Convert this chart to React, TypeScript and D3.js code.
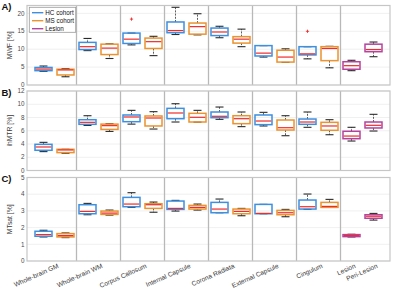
import React from "react";
import * as d3 from "d3";

// ---- data ----
const categories = ["Whole-brain GM", "Whole-brain WM", "Corpus Callosum", "Internal Capsule", "Corona Radiata", "External Capsule", "Cingulum", "Lesion", "Peri-Lesion"];
const categoryPositions = [1.5, 3.5, 5.5, 7.5, 9.5, 11.5, 13.5, 15, 16];
const boxPositions = [1, 2, 3, 4, 5, 6, 7, 8, 9, 10, 11, 12, 13, 14, 15, 16];
const boxCohort = ["HC", "MS", "HC", "MS", "HC", "MS", "HC", "MS", "HC", "MS", "HC", "MS", "HC", "MS", "Lesion", "Lesion"];
const legendLabels = ["HC cohort", "MS cohort", "Lesion"];

// [lower whisker, q1, median, q3, upper whisker]
const mwfStats = [
  [3.8, 4.0, 4.45, 4.9, 5.3], [2.3, 2.8, 4.2, 4.4, 4.6],
  [9.6, 9.9, 10.7, 11.9, 13.0], [7.4, 8.5, 10.3, 11.4, 11.5],
  [11.2, 11.6, 12.8, 14.5, 14.5], [8.2, 10.2, 12.1, 13.1, 13.6],
  [14.1, 14.6, 15.2, 17.6, 21.7], [14.0, 14.2, 16.3, 17.3, 19.9],
  [13.2, 13.8, 14.8, 15.9, 16.4], [10.7, 11.7, 12.8, 13.5, 15.6],
  [7.8, 8.1, 8.9, 11.0, 11.0], [6.3, 6.4, 7.8, 9.7, 10.1],
  [7.3, 8.4, 8.7, 10.7, 10.7], [4.8, 6.8, 10.2, 10.7, 10.8],
  [4.0, 4.4, 5.4, 6.5, 6.9], [7.9, 9.3, 9.9, 11.4, 12.0],
];
const mwfOutliers = [[5, 18.4], [13, 15.0]];
const mwfTicks = [0, 5, 10, 15, 20];

const ihmtrStats = [
  [2.85, 3.05, 3.55, 3.95, 4.25], [2.6, 2.7, 3.1, 3.2, 3.2],
  [6.8, 6.97, 7.27, 7.67, 8.27], [5.9, 6.2, 6.77, 7.0, 7.07],
  [7.0, 7.37, 8.08, 8.38, 9.08], [6.26, 6.72, 7.92, 8.23, 8.88],
  [7.32, 7.82, 8.68, 9.38, 10.08], [7.3, 7.32, 8.03, 8.63, 9.08],
  [7.72, 7.97, 8.18, 8.83, 9.58], [6.62, 7.07, 7.82, 8.27, 8.83],
  [6.72, 6.92, 7.47, 8.38, 8.78], [5.25, 6.11, 6.46, 7.62, 8.27],
  [6.52, 6.97, 7.32, 7.77, 8.83], [5.4, 6.07, 6.72, 7.27, 7.67],
  [4.45, 4.8, 5.2, 5.92, 6.52], [5.96, 6.42, 6.82, 7.32, 8.48],
];
const ihmtrTicks = [0, 2, 4, 6, 8, 10, 12];

const mtsatStats = [
  [1.44, 1.48, 1.58, 1.78, 1.84], [1.4, 1.44, 1.52, 1.64, 1.68],
  [2.77, 2.83, 2.97, 3.37, 3.45], [2.75, 2.79, 2.87, 2.99, 3.05],
  [3.21, 3.25, 3.41, 3.81, 4.09], [2.92, 3.15, 3.37, 3.43, 3.53],
  [2.99, 3.09, 3.15, 3.59, 3.63], [3.05, 3.11, 3.21, 3.33, 3.41],
  [2.89, 2.89, 3.11, 3.51, 3.71], [2.71, 2.83, 2.97, 3.11, 3.15],
  [2.83, 2.83, 2.85, 3.39, 3.39], [2.65, 2.77, 2.89, 3.03, 3.09],
  [3.09, 3.11, 3.25, 3.65, 4.01], [3.21, 3.21, 3.27, 3.51, 3.69],
  [1.44, 1.46, 1.52, 1.58, 1.6], [2.45, 2.56, 2.68, 2.77, 2.85],
];
const mtsatTicks = [0, 1, 2, 3, 4, 5];

// ---- styling ----
const colors: Record<string, string> = { HC: "#3d8fe0", MS: "#ea932f", Lesion: "#b6419f" };
const FONT = "'Liberation Sans', Arial, Helvetica, sans-serif";

const panels = [
  { letter: "A)", ylabel: "MWF [%]", stats: mwfStats, ticks: mwfTicks, domain: [0, 22.2], top: 5.5, bottom: 85, outliers: mwfOutliers },
  { letter: "B)", ylabel: "ihMTR [%]", stats: ihmtrStats, ticks: ihmtrTicks, domain: [0, 12], top: 91, bottom: 170.5, outliers: [] as number[][] },
  { letter: "C)", ylabel: "MTsat [%]", stats: mtsatStats, ticks: mtsatTicks, domain: [0, 5], top: 177.5, bottom: 261, outliers: [] as number[][] },
];

const x = d3.scaleLinear().domain([0.25, 16.75]).range([27, 390]);
const separators = d3.range(2.5, 15, 2);
const BOXW = 17;
const CAPW = 8;

function Panel({ p, showX }: { p: (typeof panels)[number]; showX: boolean }) {
  const y = d3.scaleLinear().domain(p.domain).range([p.bottom, p.top]);
  const [x0, x1] = x.range();
  return (
    <g>
      {p.ticks.map((t) => (
        <line key={"g" + t} x1={x0} x2={x1} y1={y(t)} y2={y(t)} stroke="#ececec" strokeWidth={0.8} />
      ))}
      {separators.map((s) => (
        <line key={"s" + s} x1={x(s)} x2={x(s)} y1={p.top} y2={p.bottom} stroke="#b8b8b8" strokeWidth={1.3} />
      ))}
      <rect x={x0} y={p.top} width={x1 - x0} height={p.bottom - p.top} fill="none" stroke="#c6c6c6" strokeWidth={1.2} />
      {p.ticks.map((t) => (
        <text key={"t" + t} x={24.5} y={y(t)} dy="0.35em" textAnchor="end" fontSize={6.3} fill="#4a4a4a" fontFamily={FONT}>
          {t}
        </text>
      ))}
      <text
        transform={`translate(12,${(p.top + p.bottom) / 2}) rotate(-90)`}
        textAnchor="middle"
        fontSize={6.8}
        fill="#3a3a3a"
        fontFamily={FONT}
      >
        {p.ylabel}
      </text>
      <text x={1.5} y={p.top + 4.8} fontSize={9.5} fontWeight="bold" fill="#111" fontFamily={FONT}>
        {p.letter}
      </text>
      {p.stats.map((s, i) => {
        const cx = x(boxPositions[i]);
        const c = colors[boxCohort[i]];
        const [lw, q1, md, q3, uw] = s;
        return (
          <g key={"b" + i}>
            <line x1={cx} x2={cx} y1={y(q3)} y2={y(uw)} stroke="#333" strokeWidth={0.8} strokeDasharray="2,1.2" />
            <line x1={cx} x2={cx} y1={y(q1)} y2={y(lw)} stroke="#333" strokeWidth={0.8} strokeDasharray="2,1.2" />
            <line x1={cx - CAPW / 2} x2={cx + CAPW / 2} y1={y(uw)} y2={y(uw)} stroke="#2a2a2a" strokeWidth={1.1} />
            <line x1={cx - CAPW / 2} x2={cx + CAPW / 2} y1={y(lw)} y2={y(lw)} stroke="#2a2a2a" strokeWidth={1.1} />
            <rect x={cx - BOXW / 2} y={y(q3)} width={BOXW} height={Math.max(0.5, y(q1) - y(q3))} fill="none" stroke={c} strokeWidth={1.5} />
            <line x1={cx - BOXW / 2 + 0.75} x2={cx + BOXW / 2 - 0.75} y1={y(md)} y2={y(md)} stroke="#f22a2a" strokeWidth={1.2} />
          </g>
        );
      })}
      {p.outliers.map(([pos, v], i) => {
        const cx = x(pos);
        const cy = y(v);
        return (
          <g key={"o" + i} stroke="#f22a2a" strokeWidth={0.9}>
            <line x1={cx - 1.6} x2={cx + 1.6} y1={cy} y2={cy} />
            <line x1={cx} x2={cx} y1={cy - 1.6} y2={cy + 1.6} />
          </g>
        );
      })}
      {showX &&
        categories.map((c, i) => (
          <text
            key={"x" + c}
            transform={`translate(${x(categoryPositions[i]) + 4.5},${p.bottom + 6.5}) rotate(-24)`}
            textAnchor="end"
            fontSize={6.6}
            fill="#3a3a3a"
            fontFamily={FONT}
          >
            {c}
          </text>
        ))}
    </g>
  );
}

export default function App() {
  const legendX = 29.3;
  const legendY = 7.3;
  return (
    <div style={{ position: "absolute", left: 0, top: 0 }}>
      <svg width={400} height={294} style={{ display: "block", background: "#fff" }}>
        {panels.map((p, i) => (
          <Panel key={p.letter} p={p} showX={i === 2} />
        ))}
        <g>
          <rect x={legendX} y={legendY} width={46.4} height={25} fill="#fff" stroke="#9a9a9a" strokeWidth={0.8} />
          {legendLabels.map((l, i) => {
            const ly = 12.7 + i * 8;
            const c = colors[["HC", "MS", "Lesion"][i]];
            return (
              <g key={l}>
                <line x1={32} x2={43.3} y1={ly} y2={ly} stroke={c} strokeWidth={1.4} />
                <text x={45.3} y={ly} dy="0.35em" fontSize={6.3} fill="#111" fontFamily={FONT}>
                  {l}
                </text>
              </g>
            );
          })}
        </g>
      </svg>
    </div>
  );
}
